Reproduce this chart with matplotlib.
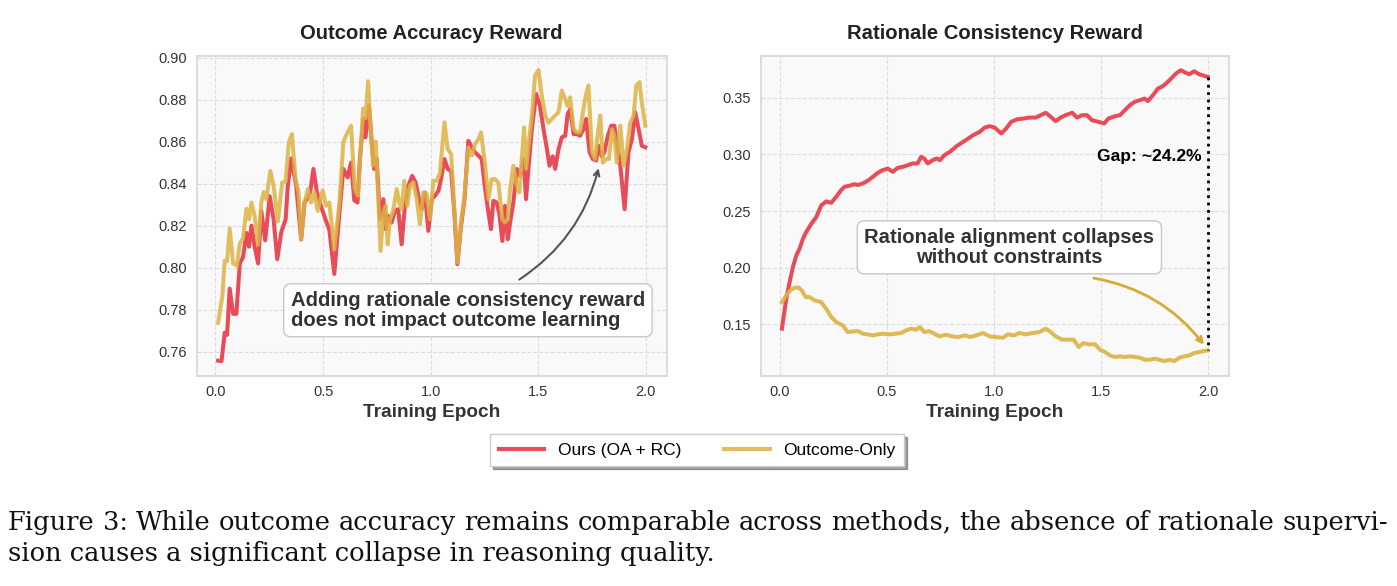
import matplotlib
matplotlib.use("Agg")
import matplotlib.pyplot as plt
from matplotlib.ticker import MultipleLocator

# ---- Outcome accuracy reward (left panel) ----
oa_ours_x = [0.012, 0.028, 0.043, 0.054, 0.066, 0.082, 0.097, 0.113, 0.128, 0.144, 0.156, 0.167,
             0.182, 0.198, 0.213, 0.231, 0.252, 0.270, 0.287, 0.306, 0.326, 0.336, 0.352, 0.375,
             0.398, 0.414, 0.429, 0.440, 0.455, 0.471, 0.491, 0.511, 0.529, 0.552, 0.576, 0.594,
             0.614, 0.630, 0.645, 0.660, 0.671, 0.687, 0.697, 0.713, 0.725, 0.737, 0.749, 0.764,
             0.780, 0.791, 0.803, 0.818, 0.834, 0.849, 0.865, 0.880, 0.896, 0.914, 0.930, 0.946,
             0.958, 0.973, 0.989, 1.005, 1.020, 1.036, 1.048, 1.064, 1.079, 1.095, 1.110, 1.124,
             1.141, 1.157, 1.175, 1.191, 1.206, 1.222, 1.237, 1.253, 1.268, 1.280, 1.291, 1.307,
             1.319, 1.333, 1.345, 1.358, 1.369, 1.384, 1.400, 1.415, 1.431, 1.443, 1.454, 1.470,
             1.490, 1.508, 1.524, 1.540, 1.552, 1.567, 1.578, 1.594, 1.609, 1.625, 1.636, 1.648,
             1.664, 1.679, 1.694, 1.710, 1.722, 1.738, 1.753, 1.769, 1.780, 1.795, 1.807, 1.823,
             1.839, 1.853, 1.865, 1.881, 1.901, 1.919, 1.935, 1.950, 1.966, 1.981, 1.997]
oa_ours = [0.7557, 0.7555, 0.769, 0.768, 0.790, 0.778, 0.778, 0.802, 0.805, 0.8165, 0.810, 0.820,
           0.810, 0.802, 0.827, 0.813, 0.834, 0.823, 0.804, 0.817, 0.823, 0.839, 0.852, 0.839,
           0.8134, 0.8312, 0.833, 0.836, 0.847, 0.836, 0.829, 0.823, 0.818, 0.797, 0.826, 0.847,
           0.843, 0.850, 0.832, 0.831, 0.8517, 0.8708, 0.862, 0.8771, 0.8612, 0.847, 0.8517, 0.823,
           0.8326, 0.8183, 0.8246, 0.8214, 0.827, 0.8278, 0.8111, 0.8294, 0.839, 0.8437, 0.8405, 0.8326,
           0.8278, 0.8358, 0.8175, 0.8326, 0.8342, 0.8366, 0.8421, 0.8517, 0.847, 0.8461, 0.8262, 0.8016,
           0.8199, 0.8326, 0.8604, 0.8572, 0.8549, 0.8533, 0.8517, 0.8374, 0.8262, 0.8183, 0.8318, 0.831,
           0.8254, 0.8127, 0.8294, 0.8135, 0.8214, 0.831, 0.847, 0.8437, 0.8517, 0.8326, 0.847, 0.866,
           0.8827, 0.877, 0.866, 0.8564, 0.8485, 0.853, 0.847, 0.8564, 0.862, 0.8628, 0.873, 0.8755,
           0.8636, 0.8636, 0.8628, 0.866, 0.8708, 0.855, 0.8517, 0.851, 0.858, 0.853, 0.855, 0.8628,
           0.8676, 0.8676, 0.8596, 0.8485, 0.8278, 0.855, 0.8612, 0.874, 0.866, 0.858, 0.8573]

oa_only_x = [0.012, 0.032, 0.043, 0.054, 0.066, 0.082, 0.100, 0.113, 0.128, 0.144, 0.156, 0.167,
             0.182, 0.198, 0.213, 0.224, 0.236, 0.255, 0.270, 0.290, 0.310, 0.326, 0.341, 0.355,
             0.372, 0.386, 0.398, 0.414, 0.429, 0.444, 0.460, 0.475, 0.498, 0.514, 0.529, 0.552,
             0.576, 0.594, 0.610, 0.630, 0.647, 0.662, 0.673, 0.686, 0.697, 0.709, 0.720, 0.732,
             0.745, 0.755, 0.767, 0.780, 0.791, 0.800, 0.811, 0.826, 0.842, 0.854, 0.865, 0.877,
             0.891, 0.904, 0.919, 0.935, 0.950, 0.966, 0.981, 0.997, 1.012, 1.028, 1.043, 1.054,
             1.064, 1.079, 1.095, 1.110, 1.124, 1.141, 1.157, 1.175, 1.191, 1.206, 1.222, 1.234,
             1.253, 1.268, 1.283, 1.299, 1.314, 1.333, 1.345, 1.358, 1.369, 1.384, 1.400, 1.412,
             1.423, 1.434, 1.443, 1.454, 1.470, 1.485, 1.501, 1.516, 1.532, 1.547, 1.563, 1.578,
             1.594, 1.609, 1.625, 1.636, 1.648, 1.664, 1.679, 1.694, 1.707, 1.722, 1.733, 1.749,
             1.764, 1.775, 1.788, 1.800, 1.815, 1.828, 1.842, 1.853, 1.865, 1.881, 1.896, 1.912,
             1.927, 1.943, 1.955, 1.970, 1.981, 1.997]
oa_only = [0.7737, 0.7865, 0.8033, 0.803, 0.8186, 0.802, 0.801, 0.8114, 0.814, 0.828, 0.823, 0.831,
           0.8246, 0.811, 0.831, 0.836, 0.8326, 0.846, 0.839, 0.822, 0.8406, 0.841, 0.8596, 0.8636,
           0.842, 0.836, 0.8135, 0.831, 0.8374, 0.831, 0.836, 0.827, 0.8368, 0.8295, 0.831, 0.8087,
           0.831, 0.8596, 0.8636, 0.8676, 0.8375, 0.8343, 0.8534, 0.8757, 0.871, 0.8887, 0.8677, 0.8486,
           0.860, 0.836, 0.808, 0.8262, 0.8294, 0.8111, 0.823, 0.827, 0.8374, 0.831, 0.8278, 0.8413,
           0.8294, 0.839, 0.8405, 0.8326, 0.8207, 0.8358, 0.835, 0.823, 0.8413, 0.8413, 0.8453, 0.858,
           0.8692, 0.8564, 0.8541, 0.8278, 0.8024, 0.8215, 0.8342, 0.8572, 0.8533, 0.8588, 0.8612, 0.8644,
           0.8485, 0.8326, 0.8421, 0.8421, 0.8405, 0.823, 0.8215, 0.823, 0.8374, 0.8485, 0.839, 0.8358,
           0.8517, 0.8668, 0.847, 0.858, 0.8724, 0.8915, 0.894, 0.882, 0.8724, 0.869, 0.8708, 0.8724,
           0.874, 0.8843, 0.8803, 0.877, 0.8811, 0.866, 0.8644, 0.8644, 0.874, 0.8827, 0.8867, 0.855,
           0.8517, 0.8628, 0.8724, 0.850, 0.8517, 0.8517, 0.866, 0.8628, 0.850, 0.8676, 0.8485, 0.8564,
           0.869, 0.8724, 0.8867, 0.8883, 0.8787, 0.8676]

# ---- Rationale consistency reward (right panel) ----
rc_ours_x = [0.011, 0.023, 0.034, 0.047, 0.062, 0.078, 0.093, 0.109, 0.124, 0.148, 0.171, 0.194,
             0.217, 0.241, 0.264, 0.287, 0.303, 0.326, 0.349, 0.365, 0.388, 0.411, 0.435, 0.458,
             0.481, 0.505, 0.528, 0.551, 0.575, 0.598, 0.621, 0.644, 0.660, 0.675, 0.691, 0.714,
             0.733, 0.748, 0.769, 0.795, 0.826, 0.857, 0.880, 0.903, 0.934, 0.957, 0.980, 1.003,
             1.034, 1.057, 1.080, 1.111, 1.142, 1.165, 1.195, 1.218, 1.242, 1.265, 1.288, 1.311,
             1.334, 1.365, 1.388, 1.411, 1.434, 1.457, 1.488, 1.515, 1.534, 1.565, 1.588, 1.611,
             1.634, 1.657, 1.680, 1.703, 1.718, 1.742, 1.765, 1.788, 1.811, 1.834, 1.849, 1.872,
             1.895, 1.911, 1.934, 1.957, 1.972, 1.997]
rc_ours = [0.1462, 0.1624, 0.1756, 0.1874, 0.2006, 0.2109, 0.2168, 0.2256, 0.2315, 0.2388, 0.2447, 0.2550,
           0.2585, 0.2574, 0.2626, 0.2685, 0.2715, 0.2724, 0.2738, 0.2730, 0.2744, 0.2768, 0.2803, 0.2838,
           0.2862, 0.2876, 0.2847, 0.2882, 0.2891, 0.2906, 0.2921, 0.2921, 0.2979, 0.2965, 0.2921, 0.2950,
           0.2965, 0.2950, 0.2994, 0.3024, 0.3074, 0.3112, 0.3141, 0.3171, 0.3200, 0.3238, 0.3250, 0.3238,
           0.3185, 0.3229, 0.3288, 0.3312, 0.3318, 0.3326, 0.3326, 0.3347, 0.3368, 0.3332, 0.3294, 0.3326,
           0.3347, 0.3368, 0.3326, 0.3347, 0.3347, 0.3303, 0.3288, 0.3274, 0.3318, 0.3338, 0.3347, 0.3391,
           0.3435, 0.3465, 0.3479, 0.3494, 0.3471, 0.3524, 0.3582, 0.3603, 0.3641, 0.3685, 0.3715, 0.3744,
           0.3721, 0.3709, 0.3735, 0.3709, 0.3700, 0.3685]

rc_only_x = [0.011, 0.031, 0.050, 0.070, 0.090, 0.106, 0.121, 0.140, 0.163, 0.194, 0.217, 0.241,
             0.264, 0.295, 0.318, 0.342, 0.365, 0.388, 0.411, 0.435, 0.458, 0.481, 0.512, 0.543,
             0.567, 0.590, 0.613, 0.637, 0.655, 0.675, 0.699, 0.722, 0.745, 0.776, 0.807, 0.831,
             0.865, 0.888, 0.918, 0.949, 0.980, 1.011, 1.042, 1.065, 1.095, 1.118, 1.149, 1.180,
             1.211, 1.242, 1.265, 1.288, 1.318, 1.349, 1.372, 1.395, 1.418, 1.442, 1.472, 1.495,
             1.518, 1.542, 1.565, 1.588, 1.611, 1.634, 1.657, 1.680, 1.703, 1.726, 1.749, 1.772,
             1.795, 1.818, 1.842, 1.865, 1.888, 1.911, 1.934, 1.957, 1.980, 1.997]
rc_only = [0.1697, 0.1756, 0.1800, 0.1824, 0.1824, 0.1794, 0.1741, 0.1741, 0.1712, 0.1697, 0.1638, 0.1565,
           0.1521, 0.1491, 0.1432, 0.1438, 0.1441, 0.1418, 0.1412, 0.1403, 0.1412, 0.1418, 0.1412, 0.1418,
           0.1424, 0.1447, 0.1462, 0.1453, 0.1476, 0.1432, 0.1441, 0.1418, 0.1394, 0.1409, 0.1394, 0.1388,
           0.1403, 0.1388, 0.1403, 0.1424, 0.1394, 0.1388, 0.1382, 0.1412, 0.1403, 0.1424, 0.1412, 0.1424,
           0.1432, 0.1462, 0.1432, 0.1394, 0.1365, 0.1365, 0.1365, 0.1300, 0.1335, 0.1324, 0.1324, 0.1276,
           0.1256, 0.1226, 0.1212, 0.1218, 0.1212, 0.1218, 0.1212, 0.1206, 0.1188, 0.1188, 0.1197, 0.1188,
           0.1176, 0.1188, 0.1176, 0.1206, 0.1218, 0.1226, 0.1247, 0.1256, 0.1265, 0.1271]

caption = ["Figure 3: While outcome accuracy remains comparable across methods, the absence of rationale supervi-",
           "sion causes a significant collapse in reasoning quality."]

RED = "#e8434f"
GOLD = "#dcb445"
SERIF = ["DejaVu Serif", "Liberation Serif"]

plt.rcParams["font.family"] = ["Liberation Sans", "DejaVu Sans"]

fig = plt.figure(figsize=(13.97, 5.86), dpi=100)
ax1 = fig.add_axes([0.1408, 0.359, 0.3364, 0.546])
ax2 = fig.add_axes([0.5445, 0.359, 0.3352, 0.546])


def style(ax, title, ystep):
    ax.set_facecolor("#f9f9f9")
    for s in ax.spines.values():
        s.set_color("#d9d9d9")
        s.set_linewidth(1.3)
    ax.grid(True, linestyle="--", color="#dedede", linewidth=0.8)
    ax.set_axisbelow(True)
    ax.tick_params(length=0, labelsize=10.5, labelcolor="#333333", pad=7)
    ax.xaxis.set_major_locator(MultipleLocator(0.5))
    ax.yaxis.set_major_locator(MultipleLocator(ystep))
    ax.set_title(title, fontsize=14.6, fontweight="bold", color="#222222", pad=12)
    ax.set_xlabel("Training Epoch", fontsize=13.7, fontweight="bold", color="#333333", labelpad=3)


ax1.plot(oa_ours_x, oa_ours, color=RED, lw=2.9, alpha=0.95, label="Ours (OA + RC)")
ax1.plot(oa_only_x, oa_only, color=GOLD, lw=2.9, alpha=0.85, label="Outcome-Only")
style(ax1, "Outcome Accuracy Reward", 0.02)

box = dict(boxstyle="round,pad=0.35", facecolor="white", edgecolor="#c8c8c8", linewidth=1)
ax1.text(0.350, 0.7797, "Adding rationale consistency reward\ndoes not impact outcome learning",
         fontsize=14.6, fontweight="bold", color="#333333", ha="left", va="center",
         linespacing=1.05, bbox=box)
ax1.annotate("", xy=(1.783, 0.8486), xytext=(1.401, 0.7936),
             arrowprops=dict(arrowstyle="->", color="#555555", lw=1.5,
                             connectionstyle="arc3,rad=0.2"))

ax2.plot(rc_ours_x, rc_ours, color=RED, lw=2.9, alpha=0.95)
ax2.plot(rc_only_x, rc_only, color=GOLD, lw=2.9, alpha=0.9)
style(ax2, "Rationale Consistency Reward", 0.05)

ax2.text(1.072, 0.218, "Rationale alignment collapses\nwithout constraints",
         fontsize=14.6, fontweight="bold", color="#333333", ha="center", va="center",
         linespacing=1.05, bbox=box)
ax2.annotate("", xy=(1.988, 0.130), xytext=(1.4525, 0.1913),
             arrowprops=dict(arrowstyle="->", color="#d4ac35", lw=2,
                             connectionstyle="arc3,rad=-0.2"))
ax2.plot([rc_ours_x[-1], rc_only_x[-1]], [rc_ours[-1], rc_only[-1]],
         color="black", linestyle=":", lw=2)
ax2.text(1.97, 0.298, "Gap: ~24.2%", fontsize=12.6, fontweight="bold", color="black",
         ha="right", va="center")

handles, labels = ax1.get_legend_handles_labels()
leg = fig.legend(handles, labels, loc="center", bbox_to_anchor=(0.499, 0.232), ncol=2,
                 fontsize=12.5, frameon=True, shadow=True, fancybox=False,
                 handlelength=2.6, columnspacing=2.5, borderpad=0.5, edgecolor="#cccccc")
for ln in leg.get_lines():
    ln.set_linewidth(3)
leg.get_frame().set_linewidth(1)

# caption: first line justified across the page width, second line left aligned
renderer = fig.canvas.get_renderer()
cap_size = 18.5
left_px, right_px = 8, 1388
W = fig.bbox.width
words = caption[0].split(" ")
widths = []
for w in words:
    t = fig.text(0, 0, w, fontsize=cap_size, family=SERIF)
    widths.append(t.get_window_extent(renderer).width)
    t.remove()
gap = (right_px - left_px - sum(widths)) / (len(words) - 1)
x = left_px
for w, wd in zip(words, widths):
    fig.text(x / W, 0.109, w, fontsize=cap_size, family=SERIF, ha="left", va="center", color="#111111")
    x += wd + gap
fig.text(left_px / W, 0.056, caption[1], fontsize=cap_size, family=SERIF,
         ha="left", va="center", color="#111111")

fig.savefig("out.png", dpi=100, facecolor="white")
